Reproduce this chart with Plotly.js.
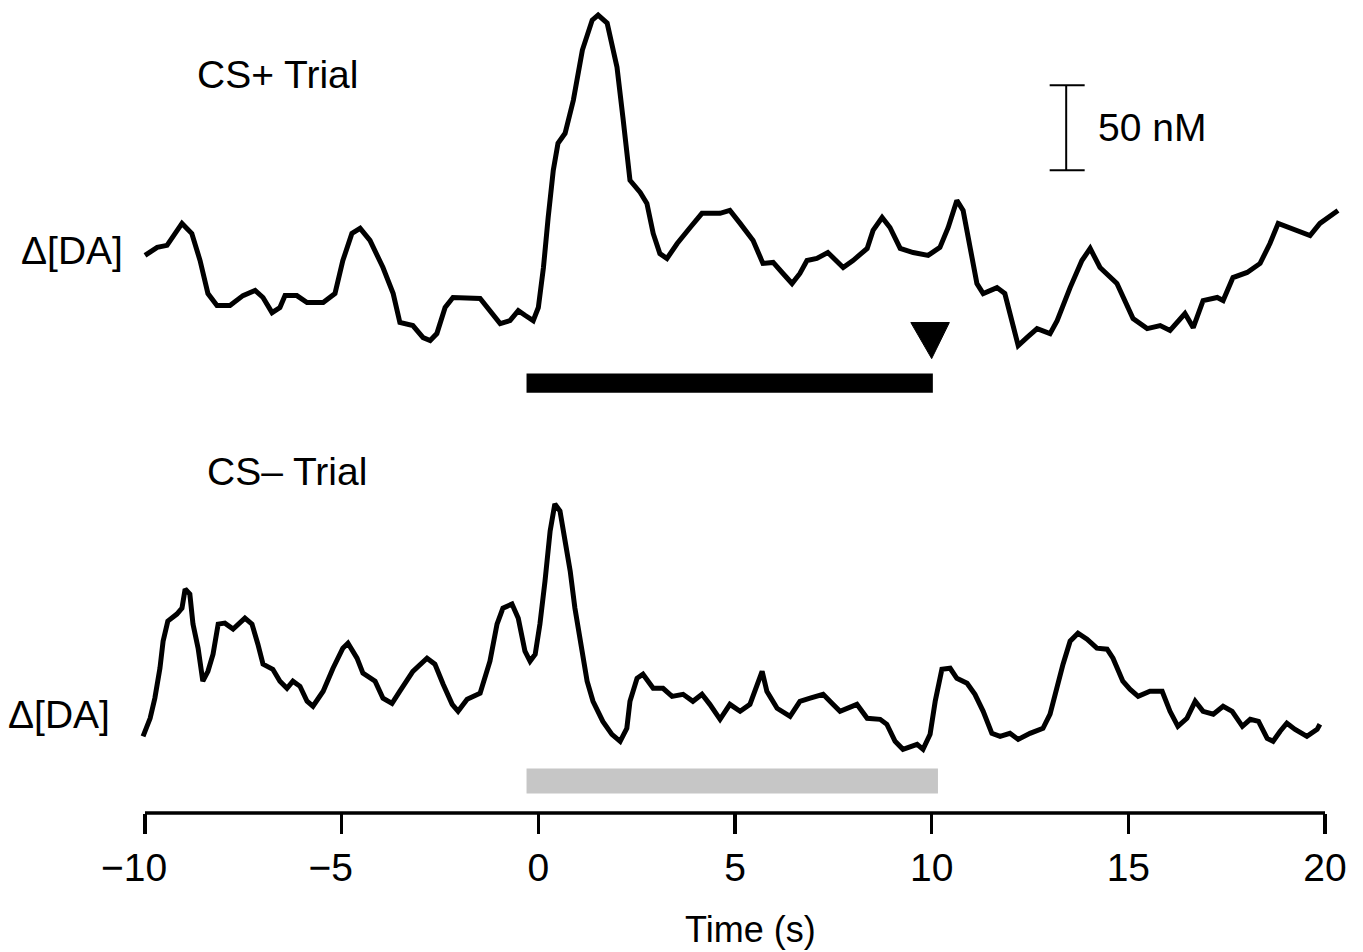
<!DOCTYPE html>
<html>
<head>
<meta charset="utf-8">
<script src="https://cdn.plot.ly/plotly-3.0.1.min.js"></script>
<style>html,body{margin:0;padding:0;background:#fff;}#chart{width:1363px;height:952px;}</style>
</head>
<body>
<div id="chart"></div>
<script>
// CS+ trial: time (s) and change in dopamine concentration (nM)
var tPlus = [-10.00,-9.69,-9.44,-9.06,-8.81,-8.60,-8.40,-8.17,-7.84,-7.51,-7.20,-7.00,-6.77,-6.57,-6.44,-6.14,-5.88,-5.47,-5.17,-4.97,-4.74,-4.53,-4.28,-3.95,-3.69,-3.52,-3.19,-2.93,-2.75,-2.58,-2.37,-2.17,-1.48,-1.23,-0.97,-0.72,-0.51,-0.33,-0.13,0.00,0.13,0.25,0.38,0.50,0.68,0.89,1.12,1.37,1.52,1.75,2.00,2.15,2.33,2.59,2.76,2.92,3.09,3.27,3.53,3.86,4.16,4.62,4.87,5.13,5.46,5.71,5.97,6.22,6.45,6.65,6.83,7.08,7.36,7.75,8.00,8.36,8.51,8.74,8.94,9.20,9.53,9.91,10.21,10.42,10.64,10.80,10.97,11.15,11.31,11.66,11.86,11.99,12.20,12.42,12.68,13.01,13.19,13.52,13.82,14.03,14.28,14.71,14.97,15.12,15.48,15.81,16.06,16.44,16.65,16.90,17.26,17.41,17.66,18.02,18.35,18.60,18.81,19.11,19.62,19.87,20.13,20.33];
var daPlus = [26.5,31.2,32.4,45.3,39.4,23.5,4.1,-2.9,-2.9,2.9,5.9,1.8,-7.1,-4.1,2.9,2.9,-1.2,-1.2,4.1,23.5,39.4,42.4,35.3,19.4,4.1,-12.9,-14.7,-21.8,-23.5,-19.4,-4.1,1.8,1.2,-5.9,-13.5,-11.8,-5.9,-8.8,-11.8,-4.1,19.4,48.8,76.5,92.4,98.2,117.6,147.1,164.7,167.6,162.9,137.1,107.6,70.6,63.5,57.1,39.4,27.6,24.7,33.5,42.9,51.2,51.2,52.9,45.3,35.3,21.8,22.4,15.9,10.0,15.9,23.5,24.7,28.2,19.4,23.5,30.6,41.2,48.8,42.9,30.6,28.2,26.5,31.2,42.9,58.8,52.9,33.5,10.0,4.1,7.6,4.1,-7.6,-26.5,-21.8,-16.5,-19.4,-11.8,7.6,23.5,30.6,19.4,10.0,-4.1,-10.6,-16.5,-14.7,-17.6,-7.6,-15.9,0.0,1.8,0.0,13.5,16.5,21.8,33.5,45.3,42.9,38.2,45.3,50.0,52.9];

// CS- trial
var tMinus = [-10.05,-9.87,-9.75,-9.62,-9.54,-9.42,-9.19,-9.06,-8.98,-8.86,-8.78,-8.65,-8.53,-8.40,-8.27,-8.14,-7.97,-7.76,-7.46,-7.28,-7.13,-7.00,-6.75,-6.57,-6.39,-6.24,-6.06,-5.88,-5.73,-5.47,-5.22,-4.97,-4.84,-4.61,-4.46,-4.15,-3.95,-3.72,-3.52,-3.19,-2.83,-2.63,-2.42,-2.19,-2.04,-1.81,-1.48,-1.23,-1.05,-0.90,-0.67,-0.51,-0.34,-0.21,-0.08,0.04,0.17,0.30,0.42,0.55,0.68,0.81,0.93,1.06,1.24,1.39,1.64,1.87,2.08,2.25,2.33,2.51,2.66,2.92,3.17,3.40,3.68,3.93,4.16,4.36,4.62,4.87,5.13,5.38,5.56,5.69,5.81,6.07,6.40,6.65,6.91,7.24,7.49,7.67,8.10,8.36,8.69,8.86,9.07,9.27,9.63,9.78,9.96,10.09,10.26,10.47,10.64,10.90,11.10,11.31,11.53,11.74,11.99,12.20,12.50,12.83,13.01,13.19,13.34,13.52,13.72,13.95,14.20,14.46,14.61,14.86,15.04,15.25,15.55,15.86,16.06,16.26,16.49,16.70,16.90,17.16,17.41,17.64,17.90,18.10,18.31,18.53,18.68,18.86,19.03,19.24,19.54,19.80,19.87];
var daMinus = [-20.6,-10.0,1.8,19.4,35.3,47.1,51.2,54.7,65.9,62.9,45.3,31.2,11.8,17.6,27.6,45.3,45.9,42.4,48.8,45.3,33.5,21.8,18.8,11.8,7.6,11.8,8.8,0.0,-2.9,5.9,19.4,31.2,34.1,25.3,16.5,11.8,1.8,-1.2,5.9,17.6,25.3,21.8,10.0,-1.8,-5.9,1.2,4.7,23.5,45.3,54.7,57.1,48.8,29.4,23.5,27.6,45.3,70.6,100.0,115.9,111.8,94.1,76.5,54.7,35.3,11.8,0.0,-11.8,-19.4,-23.5,-15.9,0.0,13.5,15.9,7.6,7.6,2.9,4.1,0.0,4.1,-1.8,-10.6,-1.8,-5.9,-1.8,10.0,17.6,5.9,-4.1,-8.8,0.0,1.8,4.1,-1.8,-5.9,-1.8,-10.0,-10.6,-13.5,-23.5,-28.2,-25.3,-28.2,-19.4,0.0,18.8,19.4,13.5,10.6,4.1,-5.9,-18.8,-20.6,-18.8,-22.4,-18.8,-15.9,-7.6,10.0,21.8,35.3,40.0,36.5,31.2,30.6,25.3,11.8,7.1,2.9,5.9,5.9,-5.9,-14.7,-10.0,0.0,-5.9,-7.6,-2.9,-5.9,-14.7,-10.6,-11.8,-21.8,-23.5,-17.6,-12.9,-16.5,-20.6,-16.5,-13.5];

// Axis ticks (negative labels padded so the digits sit under the tick)
var tickValues = [-10, -5, 0, 5, 10, 15, 20];
var tickLabels = ['\u221210\u2007', '\u22125\u2007', '0', '5', '10', '15', '20'];

// Cue / reward timing (s)
var cueStart = -0.3;
var cuePlusEnd = 10.03;
var cueMinusEnd = 10.16;
var rewardTime = 10.0;

// Scale bar (nM)
var scaleBarNM = 50;
var scaleBarBase = 76.5;
var scaleBarTime = 13.42;

var FONT = 'Liberation Sans Narrow, Arial Narrow, Liberation Sans, Arial, sans-serif';

var traces = [
  {x: tPlus, y: daPlus, xaxis: 'x', yaxis: 'y2', mode: 'lines',
   line: {color: '#000', width: 5}, hoverinfo: 'skip', showlegend: false},
  {x: tMinus, y: daMinus, xaxis: 'x', yaxis: 'y', mode: 'lines',
   line: {color: '#000', width: 5}, hoverinfo: 'skip', showlegend: false}
];

var shapes = [
  // x axis line, from -10 to 20
  {type: 'line', xref: 'x', yref: 'paper', x0: tickValues[0], x1: tickValues[tickValues.length-1], y0: 0, y1: 0,
   line: {color: '#000', width: 3.5}},
  // CS+ cue bar (black)
  {type: 'rect', xref: 'x', yref: 'y2', x0: cueStart, x1: cuePlusEnd, y0: -54.1, y1: -42.9,
   fillcolor: '#000', line: {width: 0}},
  // reward triangle
  {type: 'path', xref: 'x', yref: 'y2',
   path: 'M ' + (rewardTime - 0.53) + ',-12.9 L ' + (rewardTime + 0.45) + ',-12.9 L ' + rewardTime + ',-34.1 Z',
   fillcolor: '#000', line: {color: '#000', width: 1}},
  // CS- cue bar (gray)
  {type: 'rect', xref: 'x', yref: 'y', x0: cueStart, x1: cueMinusEnd, y0: -54.1, y1: -39.4,
   fillcolor: '#c6c6c6', line: {width: 0}},
  // scale bar
  {type: 'line', xref: 'x', yref: 'y2', x0: scaleBarTime, x1: scaleBarTime, y0: scaleBarBase, y1: scaleBarBase + scaleBarNM,
   line: {color: '#000', width: 2}},
  {type: 'line', xref: 'x', yref: 'y2', x0: scaleBarTime - 0.42, x1: scaleBarTime + 0.47, y0: scaleBarBase, y1: scaleBarBase,
   line: {color: '#000', width: 2}},
  {type: 'line', xref: 'x', yref: 'y2', x0: scaleBarTime - 0.42, x1: scaleBarTime + 0.47, y0: scaleBarBase + scaleBarNM, y1: scaleBarBase + scaleBarNM,
   line: {color: '#000', width: 2}}
];

var annotations = [
  {text: 'CS+ Trial', xref: 'x', yref: 'y2', x: -8.73, y: 132.9, xanchor: 'left', yanchor: 'middle', showarrow: false,
   font: {family: FONT, size: 39, color: '#000'}},
  {text: 'CS\u2013 Trial', xref: 'x', yref: 'y', x: -8.47, y: 134.7, xanchor: 'left', yanchor: 'middle', showarrow: false,
   font: {family: FONT, size: 39, color: '#000'}},
  {text: '\u0394[DA]', xref: 'paper', yref: 'y2', x: -0.004, y: 29.4, xanchor: 'right', yanchor: 'middle', showarrow: false,
   font: {family: FONT, size: 39, color: '#000'}},
  {text: '\u0394[DA]', xref: 'paper', yref: 'y', x: -0.0145, y: -7.6, xanchor: 'right', yanchor: 'middle', showarrow: false,
   font: {family: FONT, size: 39, color: '#000'}},
  {text: '50 nM', xref: 'x', yref: 'y2', x: 14.18, y: scaleBarBase + scaleBarNM / 2, xanchor: 'left', yanchor: 'middle', showarrow: false,
   font: {family: FONT, size: 39, color: '#000'}},
  {text: 'Time (s)', xref: 'x', yref: 'paper', x: 5.4, y: -0.143, xanchor: 'center', yanchor: 'middle', showarrow: false,
   font: {family: FONT, size: 36, color: '#000'}}
];

var layout = {
  width: 1363, height: 952,
  margin: {l: 130, r: 20, t: 0, b: 139, pad: 0},
  paper_bgcolor: '#fff', plot_bgcolor: '#fff',
  showlegend: false,
  xaxis: {
    domain: [0, 1],
    range: [-10.3814, 20.4576],
    showgrid: false, zeroline: false, showline: false,
    tickmode: 'array', tickvals: tickValues, ticktext: tickLabels,
    ticks: 'outside', ticklen: 20, tickwidth: 3.5, tickcolor: '#000',
    tickfont: {family: FONT, size: 39, color: '#000'},
    fixedrange: true
  },
  yaxis: {
    domain: [0, 0.4824],
    range: [-65.6, 164.7],
    visible: false, fixedrange: true
  },
  yaxis2: {
    domain: [0.4948, 1],
    range: [-64.7, 176.5],
    visible: false, fixedrange: true
  },
  shapes: shapes,
  annotations: annotations
};

Plotly.newPlot('chart', traces, layout, {staticPlot: true, displayModeBar: false});
</script>
</body>
</html>
